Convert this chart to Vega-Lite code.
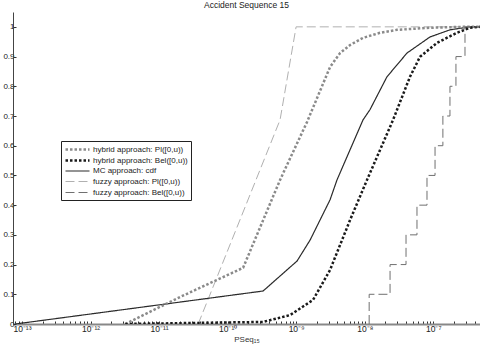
{
  "$schema": "https://vega.github.io/schema/vega-lite/v6.json",
  "autosize": {"type": "none"},
  "padding": {"left": 13, "top": 12, "right": 0, "bottom": 30},
  "width": 467,
  "height": 312,
  "background": "white",
  "title": {"text": "Accident Sequence 15", "fontSize": 8.5, "fontWeight": "normal", "font": "Liberation Sans", "offset": 3, "color": "#222"},
  "config": {
    "view": {"stroke": null},
    "font": "Liberation Sans"
  },
  "datasets": {
    "main": [
      {"s": "fuzzy approach: Pl([0,u))", "x": 3.72e-11, "y": 0, "i": 1},
      {"s": "fuzzy approach: Pl([0,u))", "x": 5.82e-10, "y": 0.687, "i": 2},
      {"s": "fuzzy approach: Pl([0,u))", "x": 9.97e-10, "y": 1.0, "i": 3},
      {"s": "fuzzy approach: Pl([0,u))", "x": 4.8e-7, "y": 1.0, "i": 4},

      {"s": "MC approach: cdf", "x": 8e-14, "y": 0, "i": 1},
      {"s": "MC approach: cdf", "x": 3.29e-10, "y": 0.111, "i": 2},
      {"s": "MC approach: cdf", "x": 1.03e-9, "y": 0.212, "i": 3},
      {"s": "MC approach: cdf", "x": 1.6e-9, "y": 0.283, "i": 4},
      {"s": "MC approach: cdf", "x": 3.12e-9, "y": 0.418, "i": 5},
      {"s": "MC approach: cdf", "x": 3.94e-9, "y": 0.485, "i": 6},
      {"s": "MC approach: cdf", "x": 9.44e-9, "y": 0.687, "i": 7},
      {"s": "MC approach: cdf", "x": 1.19e-8, "y": 0.721, "i": 8},
      {"s": "MC approach: cdf", "x": 2.11e-8, "y": 0.832, "i": 9},
      {"s": "MC approach: cdf", "x": 4.14e-8, "y": 0.912, "i": 10},
      {"s": "MC approach: cdf", "x": 8.95e-8, "y": 0.966, "i": 11},
      {"s": "MC approach: cdf", "x": 1.75e-7, "y": 0.99, "i": 12},
      {"s": "MC approach: cdf", "x": 3.43e-7, "y": 1.0, "i": 13},
      {"s": "MC approach: cdf", "x": 4.8e-7, "y": 1.0, "i": 14},

      {"s": "hybrid approach: Pl([0,u))", "x": 3.21e-12, "y": 0, "i": 1},
      {"s": "hybrid approach: Pl([0,u))", "x": 2.03e-11, "y": 0.091, "i": 2},
      {"s": "hybrid approach: Pl([0,u))", "x": 1.68e-10, "y": 0.189, "i": 3},
      {"s": "hybrid approach: Pl([0,u))", "x": 5.82e-10, "y": 0.485, "i": 4},
      {"s": "hybrid approach: Pl([0,u))", "x": 1.44e-9, "y": 0.68, "i": 5},
      {"s": "hybrid approach: Pl([0,u))", "x": 3.12e-9, "y": 0.865, "i": 6},
      {"s": "hybrid approach: Pl([0,u))", "x": 4.37e-9, "y": 0.912, "i": 7},
      {"s": "hybrid approach: Pl([0,u))", "x": 6.11e-9, "y": 0.939, "i": 8},
      {"s": "hybrid approach: Pl([0,u))", "x": 9.44e-9, "y": 0.963, "i": 9},
      {"s": "hybrid approach: Pl([0,u))", "x": 1.67e-8, "y": 0.98, "i": 10},
      {"s": "hybrid approach: Pl([0,u))", "x": 2.96e-8, "y": 0.99, "i": 11},
      {"s": "hybrid approach: Pl([0,u))", "x": 8.95e-8, "y": 0.997, "i": 12},
      {"s": "hybrid approach: Pl([0,u))", "x": 2.71e-7, "y": 1.0, "i": 13},
      {"s": "hybrid approach: Pl([0,u))", "x": 4.8e-7, "y": 1.0, "i": 14},

      {"s": "hybrid approach: Bel([0,u))", "x": 3.21e-12, "y": 0, "i": 1},
      {"s": "hybrid approach: Bel([0,u))", "x": 3.29e-10, "y": 0.007, "i": 2},
      {"s": "hybrid approach: Bel([0,u))", "x": 8.15e-10, "y": 0.03, "i": 3},
      {"s": "hybrid approach: Bel([0,u))", "x": 1.76e-9, "y": 0.081, "i": 4},
      {"s": "hybrid approach: Bel([0,u))", "x": 3.12e-9, "y": 0.182, "i": 5},
      {"s": "hybrid approach: Bel([0,u))", "x": 6.11e-9, "y": 0.35, "i": 6},
      {"s": "hybrid approach: Bel([0,u))", "x": 1.08e-8, "y": 0.485, "i": 7},
      {"s": "hybrid approach: Bel([0,u))", "x": 2.59e-8, "y": 0.687, "i": 8},
      {"s": "hybrid approach: Bel([0,u))", "x": 4.57e-8, "y": 0.832, "i": 9},
      {"s": "hybrid approach: Bel([0,u))", "x": 6.39e-8, "y": 0.899, "i": 10},
      {"s": "hybrid approach: Bel([0,u))", "x": 1.13e-7, "y": 0.946, "i": 11},
      {"s": "hybrid approach: Bel([0,u))", "x": 2.21e-7, "y": 0.98, "i": 12},
      {"s": "hybrid approach: Bel([0,u))", "x": 3.43e-7, "y": 0.997, "i": 13},
      {"s": "hybrid approach: Bel([0,u))", "x": 4.8e-7, "y": 1.0, "i": 14}
    ],
    "step": [
      {"s": "fuzzy approach: Bel([0,u))", "x": 1.16e-8, "y": 0, "i": 1},
      {"s": "fuzzy approach: Bel([0,u))", "x": 1.16e-8, "y": 0.1, "i": 2},
      {"s": "fuzzy approach: Bel([0,u))", "x": 2.34e-8, "y": 0.2, "i": 3},
      {"s": "fuzzy approach: Bel([0,u))", "x": 4.0e-8, "y": 0.3, "i": 4},
      {"s": "fuzzy approach: Bel([0,u))", "x": 5.78e-8, "y": 0.4, "i": 5},
      {"s": "fuzzy approach: Bel([0,u))", "x": 8.09e-8, "y": 0.5, "i": 6},
      {"s": "fuzzy approach: Bel([0,u))", "x": 1.06e-7, "y": 0.6, "i": 7},
      {"s": "fuzzy approach: Bel([0,u))", "x": 1.38e-7, "y": 0.7, "i": 8},
      {"s": "fuzzy approach: Bel([0,u))", "x": 1.75e-7, "y": 0.8, "i": 9},
      {"s": "fuzzy approach: Bel([0,u))", "x": 2.14e-7, "y": 0.9, "i": 10},
      {"s": "fuzzy approach: Bel([0,u))", "x": 2.9e-7, "y": 1.0, "i": 11},
      {"s": "fuzzy approach: Bel([0,u))", "x": 4.8e-7, "y": 1.0, "i": 12}
    ]
  },
  "encoding": {
    "x": {
      "field": "x", "type": "quantitative",
      "scale": {"type": "log", "domain": [7.4e-14, 4.8e-7], "nice": false},
      "axis": {
        "title": "PSeq₁₅",
        "titleFontSize": 8, "titleFontWeight": "normal", "titleColor": "#333", "titlePadding": 3,
        "values": [8e-14, 9e-14,
          1e-13, 2e-13, 3e-13, 4e-13, 5e-13, 6e-13, 7e-13, 8e-13, 9e-13,
          1e-12, 2e-12, 3e-12, 4e-12, 5e-12, 6e-12, 7e-12, 8e-12, 9e-12,
          1e-11, 2e-11, 3e-11, 4e-11, 5e-11, 6e-11, 7e-11, 8e-11, 9e-11,
          1e-10, 2e-10, 3e-10, 4e-10, 5e-10, 6e-10, 7e-10, 8e-10, 9e-10,
          1e-9, 2e-9, 3e-9, 4e-9, 5e-9, 6e-9, 7e-9, 8e-9, 9e-9,
          1e-8, 2e-8, 3e-8, 4e-8, 5e-8, 6e-8, 7e-8, 8e-8, 9e-8,
          1e-7, 2e-7, 3e-7, 4e-7],
        "labelExpr": "abs(log(datum.value)/LN10 - round(log(datum.value)/LN10)) < 0.01 ? '10' + ({'-13':'⁻¹³','-12':'⁻¹²','-11':'⁻¹¹','-10':'⁻¹⁰','-9':'⁻⁹','-8':'⁻⁸','-7':'⁻⁷'})['' + round(log(datum.value)/LN10)] : ''",
        "labelFontSize": 8.5, "labelColor": "#222", "labelPadding": 3, "labelFlush": false, "labelOverlap": false,
        "tickSize": -3, "tickColor": "#333", "domainColor": "#888", "domainWidth": 2, "grid": false
      }
    },
    "y": {
      "field": "y", "type": "quantitative",
      "scale": {"domain": [0, 1.05], "nice": false, "zero": true},
      "axis": {
        "title": null,
        "values": [0, 0.1, 0.2, 0.3, 0.4, 0.5, 0.6, 0.7, 0.8, 0.9, 1],
        "format": "~g",
        "labelFontSize": 8, "labelColor": "#222", "labelPadding": 2,
        "tickSize": -3, "tickColor": "#333", "domainColor": "#444", "grid": false
      }
    },
    "color": {
      "field": "s", "type": "nominal",
      "scale": {
        "domain": ["hybrid approach: Pl([0,u))", "hybrid approach: Bel([0,u))", "MC approach: cdf", "fuzzy approach: Pl([0,u))", "fuzzy approach: Bel([0,u))"],
        "range": ["#8a8a8a", "#1a1a1a", "#2a2a2a", "#b0b0b0", "#707070"]
      },
      "legend": {
        "title": null, "orient": "none", "legendX": 48, "legendY": 129,
        "strokeColor": "#222", "fillColor": "white", "padding": 3,
        "symbolType": "M-1,0H5", "symbolSize": 64, "labelFontSize": 8, "labelColor": "#222",
        "rowPadding": 0, "labelLimit": 200, "labelOffset": 18, "gridAlign": "all"
      }
    },
    "strokeDash": {
      "field": "s", "type": "nominal",
      "scale": {
        "domain": ["hybrid approach: Pl([0,u))", "hybrid approach: Bel([0,u))", "MC approach: cdf", "fuzzy approach: Pl([0,u))", "fuzzy approach: Bel([0,u))"],
        "range": [[2.5, 2], [2.5, 2], [1, 0], [9, 4], [9, 4]]
      },
      "legend": null
    },
    "strokeWidth": {
      "field": "s", "type": "nominal",
      "scale": {
        "type": "ordinal",
        "domain": ["hybrid approach: Pl([0,u))", "hybrid approach: Bel([0,u))", "MC approach: cdf", "fuzzy approach: Pl([0,u))", "fuzzy approach: Bel([0,u))"],
        "range": [2.5, 2.5, 1.2, 1, 1]
      },
      "legend": null
    },
    "order": {"field": "i", "type": "quantitative"}
  },
  "layer": [
    {"data": {"name": "main"}, "mark": {"type": "line", "clip": true}},
    {"data": {"name": "step"}, "mark": {"type": "line", "interpolate": "step-after", "clip": true}}
  ]
}
